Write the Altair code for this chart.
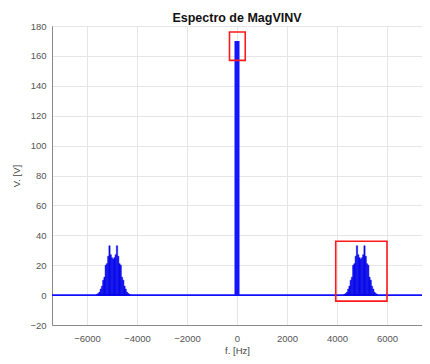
import altair as alt
import pandas as pd

# ---- data ----
x_domain = [-7400, 7400]
y_domain = [-20, 180]
x_ticks = [-6000, -4000, -2000, 0, 2000, 4000, 6000]
y_ticks = [-20, 0, 20, 40, 60, 80, 100, 120, 140, 160, 180]

# sideband lines (offset from the carrier, Hz) and their magnitudes (V)
sb_offsets = [0, 50, 100, 150, 200, 250, 300, 350, 400, 450, 500, 550, 600, 650]
sb_mags = [24, 25, 27, 33, 26, 21, 20, 12, 10, 6, 4, 2, 1, 0.5]
carriers = [-4950, 4950]
line_spacing = 50

dc_freq = 0
dc_value = 170
dc_halfwidth = 100

# highlight boxes: f1, f2, v1, v2
box_f1 = [-300, 3950]
box_f2 = [330, 6000]
box_v1 = [157, -4]
box_v2 = [176, 36]

# ---- tables ----
rows = []
for c in carriers:
    for off, m in zip(sb_offsets, sb_mags):
        for s in ([1] if off == 0 else [1, -1]):
            f = c + s * off
            rows.append({"f1": f - line_spacing / 2, "f2": f + line_spacing / 2, "v": m})
sb = pd.DataFrame(rows)
dc = pd.DataFrame({"f1": [dc_freq - dc_halfwidth], "f2": [dc_freq + dc_halfwidth], "v": [dc_value]})
base = pd.DataFrame({"f": x_domain, "v": [0, 0]})
boxes = pd.DataFrame({"f1": box_f1, "f2": box_f2, "v1": box_v1, "v2": box_v2})

xs = alt.Scale(domain=x_domain, nice=False, zero=False)
ys = alt.Scale(domain=y_domain, nice=False, zero=False)

xaxis = alt.Axis(values=x_ticks, format="d", title="f. [Hz]", ticks=False,
                 labelPadding=8, titlePadding=3, labelOverlap=False)
yaxis = alt.Axis(values=y_ticks, format="d", title="V. [V]", ticks=False,
                 labelPadding=6, titlePadding=8, labelOverlap=False)

line = alt.Chart(base).mark_line(color="#1010ff", strokeWidth=1.6).encode(
    x=alt.X("f:Q", scale=xs, axis=xaxis),
    y=alt.Y("v:Q", scale=ys, axis=yaxis),
)

sb_bars = alt.Chart(sb).mark_rect(color="#0a0aff", stroke="#0606d8", strokeWidth=0.5).encode(
    x=alt.X("f1:Q", scale=xs, axis=xaxis), x2="f2:Q",
    y=alt.Y("v:Q", scale=ys, axis=yaxis), y2=alt.datum(0),
)

dc_bar = alt.Chart(dc).mark_rect(color="#1414ff").encode(
    x=alt.X("f1:Q", scale=xs, axis=xaxis), x2="f2:Q",
    y=alt.Y("v:Q", scale=ys, axis=yaxis), y2=alt.datum(0),
)

box_marks = alt.Chart(boxes).mark_rect(fill=None, filled=False, stroke="#ff1a1a", strokeWidth=1.6).encode(
    x=alt.X("f1:Q", scale=xs, axis=xaxis), x2="f2:Q",
    y=alt.Y("v1:Q", scale=ys, axis=yaxis), y2="v2:Q",
)

chart = (
    alt.layer(line, sb_bars, dc_bar, box_marks)
    .properties(
        width=370,
        height=299,
        background="white",
        autosize=alt.AutoSizeParams(type="none"),
        padding={"left": 44, "top": 18, "right": 0, "bottom": 31},
        title=alt.TitleParams("Espectro de MagVINV", fontSize=12.5, fontWeight="bold",
                              font="Liberation Sans", color="#111111", offset=4, dy=7,
                              anchor="middle"),
    )
    .configure_axis(
        labelFont="Liberation Sans", titleFont="Liberation Sans",
        labelFontSize=9.5, titleFontSize=9.5, titleFontWeight="normal",
        labelColor="#555555", titleColor="#444444",
        domainColor="#8a8a8a", gridColor="#e6e6e6", gridWidth=1,
    )
    .configure_view(stroke="#8a8a8a", strokeWidth=1)
)

chart.save("out.html", embed_options={"renderer": "svg", "actions": False})
